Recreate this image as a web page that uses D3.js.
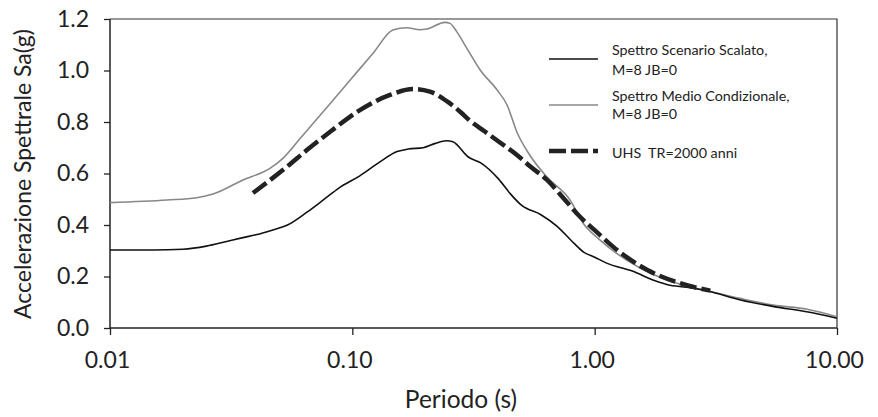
<!DOCTYPE html>
<html>
<head>
<meta charset="utf-8">
<script src="https://cdn.jsdelivr.net/npm/d3@7"></script>
<style>
  body { margin: 0; background: #fff; }
  text { font-family: Lato, "DejaVu Sans", sans-serif; fill: #222; }
</style>
</head>
<body>
<svg id="chart" width="878" height="417"></svg>
<script>
// Periods (s) and spectral accelerations (g)
const scenarioT = [0.01, 0.015, 0.02, 0.025, 0.03, 0.035, 0.04, 0.047, 0.054, 0.065, 0.079, 0.09, 0.107, 0.13, 0.153, 0.17, 0.196, 0.22, 0.245, 0.26, 0.3, 0.34, 0.4, 0.45, 0.5, 0.6, 0.7, 0.8, 0.9, 1.0, 1.12, 1.44, 1.74, 2.0, 2.4, 2.9, 4.0, 5.5, 7.5, 10];
const scenarioSa = [0.303, 0.303, 0.306, 0.318, 0.335, 0.35, 0.362, 0.381, 0.4, 0.45, 0.51, 0.55, 0.59, 0.645, 0.685, 0.695, 0.7, 0.717, 0.727, 0.723, 0.665, 0.64, 0.58, 0.52, 0.476, 0.44, 0.395, 0.34, 0.295, 0.275, 0.252, 0.22, 0.186, 0.168, 0.158, 0.145, 0.109, 0.083, 0.063, 0.038];

const cmsT = [0.01, 0.0172, 0.0228, 0.0266, 0.0354, 0.0457, 0.0517, 0.0609, 0.0809, 0.0978, 0.122, 0.147, 0.168, 0.19, 0.203, 0.241, 0.253, 0.27, 0.297, 0.337, 0.396, 0.435, 0.478, 0.541, 0.636, 0.791, 0.895, 1.05, 1.54, 1.99, 2.32, 2.91, 3.98, 5.45, 7.53, 10];
const cmsSa = [0.487, 0.497, 0.506, 0.52, 0.575, 0.62, 0.659, 0.736, 0.871, 0.962, 1.068, 1.157, 1.166, 1.158, 1.161, 1.187, 1.183, 1.15, 1.086, 1.002, 0.924, 0.866, 0.76, 0.67, 0.586, 0.497, 0.408, 0.342, 0.233, 0.186, 0.167, 0.145, 0.115, 0.089, 0.073, 0.044];

const uhsT = [0.0389, 0.0537, 0.0649, 0.081, 0.107, 0.143, 0.178, 0.209, 0.247, 0.28, 0.305, 0.35, 0.396, 0.478, 0.541, 0.636, 0.75, 0.87, 1.0, 1.19, 1.65, 2.25, 3.0];
const uhsSa = [0.524, 0.626, 0.691, 0.762, 0.845, 0.905, 0.928, 0.918, 0.879, 0.838, 0.806, 0.765, 0.728, 0.672, 0.628, 0.575, 0.50, 0.432, 0.38, 0.316, 0.225, 0.174, 0.145];

const xTicks = [0.01, 0.1, 1, 10];
const yTicks = [0, 0.2, 0.4, 0.6, 0.8, 1.0, 1.2];

const legendLabels = [
  ["Spettro Scenario Scalato,", "M=8 JB=0"],
  ["Spettro Medio Condizionale,", "M=8 JB=0"],
  ["UHS  TR=2000 anni"]
];

// plot box
const plotLeft = 110, plotRight = 837, plotTop = 19, plotBottom = 328;

const svg = d3.select("#chart");

const x = d3.scaleLog().domain([0.01, 10]).range([plotLeft, plotRight]);
const y = d3.scaleLinear().domain([0, 1.2]).range([plotBottom, plotTop]);

// top and right frame
svg.append("path")
  .attr("d", `M${plotLeft},${plotTop}H${plotRight}V${plotBottom}`)
  .attr("fill", "none")
  .attr("stroke", "#333")
  .attr("stroke-width", 1.2);

// axes
const xAxis = svg.append("g")
  .attr("transform", `translate(0,${plotBottom})`)
  .call(d3.axisBottom(x).tickValues(xTicks).tickFormat(d3.format(".2f")).tickSize(7).tickPadding(17));

const yAxis = svg.append("g")
  .attr("transform", `translate(${plotLeft},0)`)
  .call(d3.axisLeft(y).tickValues(yTicks).tickFormat(d3.format(".1f")).tickSize(6).tickPadding(15));

[xAxis, yAxis].forEach(a => {
  a.select(".domain").attr("stroke", "#222").attr("stroke-width", 1.5);
  a.selectAll(".tick line").attr("stroke", "#222").attr("stroke-width", 1.3);
  a.selectAll(".tick text").attr("font-size", 23).attr("fill", "#222")
    .style("font-family", "Lato, 'DejaVu Sans', sans-serif");
});
xAxis.selectAll(".tick text").attr("x", -3);
yAxis.select(".domain").attr("d", `M0,${plotTop}V${plotBottom}`);
xAxis.select(".domain").attr("d", `M${plotLeft},0H${plotRight}`);

// axis titles
svg.append("text")
  .attr("x", 461)
  .attr("y", 408)
  .attr("text-anchor", "middle")
  .attr("font-size", 24.5)
  .text("Periodo (s)");

svg.append("text")
  .attr("transform", `translate(31,174) rotate(-90)`)
  .attr("text-anchor", "middle")
  .attr("font-size", 23)
  .text("Accelerazione Spettrale Sa(g)");

// curves
const line = d3.line()
  .x(d => x(d[0]))
  .y(d => y(d[1]))
  .curve(d3.curveMonotoneX);

const series = [
  { t: cmsT, sa: cmsSa, color: "#888", width: 1.6, dash: null },
  { t: scenarioT, sa: scenarioSa, color: "#111", width: 1.6, dash: null },
  { t: uhsT, sa: uhsSa, color: "#222", width: 4.5, dash: "17,5" }
];

series.forEach(s => {
  svg.append("path")
    .datum(d3.zip(s.t, s.sa))
    .attr("fill", "none")
    .attr("stroke", s.color)
    .attr("stroke-width", s.width)
    .attr("stroke-dasharray", s.dash)
    .attr("d", line);
});

// legend
const legendItems = [
  { color: "#111", width: 1.6, dash: null, ly: 59, labels: legendLabels[0], ty: [50, 70] },
  { color: "#888", width: 1.6, dash: null, ly: 105, labels: legendLabels[1], ty: [96, 114] },
  { color: "#222", width: 4.5, dash: "17,5", ly: 151, labels: legendLabels[2], ty: [153] }
];

const legend = svg.append("g");
legendItems.forEach(it => {
  legend.append("line")
    .attr("x1", 549).attr("x2", 598)
    .attr("y1", it.ly).attr("y2", it.ly)
    .attr("stroke", it.color)
    .attr("stroke-width", it.width)
    .attr("stroke-dasharray", it.dash);
  it.labels.forEach((lab, i) => {
    legend.append("text")
      .attr("x", 612)
      .attr("y", it.ty[i])
      .attr("dy", "0.35em")
      .attr("font-size", 14.3)
      .style("white-space", "pre")
      .text(lab);
  });
});
</script>
</body>
</html>
